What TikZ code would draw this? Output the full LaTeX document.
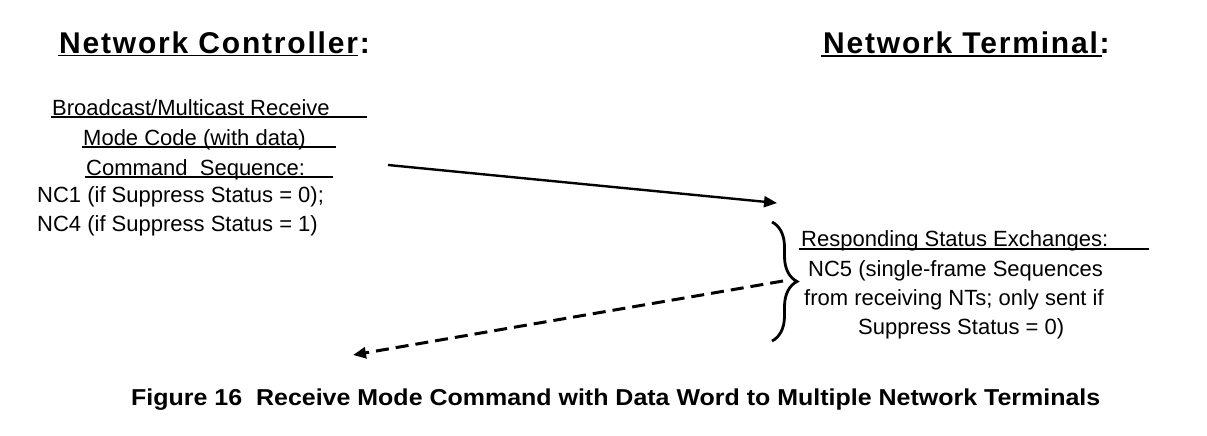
\documentclass[tikz,border=0pt]{standalone}
\usepackage{fontspec}
\setmainfont{Liberation Sans}
\usepackage{graphicx}
\usetikzlibrary{arrows.meta,decorations.pathreplacing}

\begin{document}
\begin{tikzpicture}[x=1pt,y=-1pt,>={Triangle[length=13pt,width=11pt]},
  head/.style={anchor=base west,inner sep=0pt,font=\fontsize{30}{36}\selectfont\bfseries\addfontfeature{LetterSpace=6}},
  txt/.style={anchor=base west,inner sep=0pt,font=\fontsize{22}{28}\selectfont},
  uline/.style={line width=1.5pt},
  msg/.style={->,line width=2.4pt}]
\useasboundingbox (0,0) rectangle (1207,436);
% headings
\node[head] (ctrl) at (59,53)  {Network Controller:};
\node[head] (term) at (823,53) {Network Terminal:};
\draw[uline] (58,55.5) -- (358,55.5);
\draw[uline] (821,56) -- (1102,56);
% controller side: command sequence
\node[txt] (cmdA) at (52,115)  {Broadcast/Multicast Receive};
\node[txt] (cmdB) at (83,145)  {Mode Code (with data)};
\node[txt] (cmdC) at (86,175)  {Command\ \ Sequence:};
\node[txt] (ncA)  at (37,202)  {NC1 (if Suppress Status = 0);};
\node[txt] (ncB)  at (37,231)  {NC4 (if Suppress Status = 1)};
\draw[uline] (51,117) -- (367,117);
\draw[uline] (82,147) -- (336,147);
\draw[uline] (85,177) -- (333,177);
% terminal side: status responses
\node[txt] (rspA) at (801,246) {Responding Status Exchanges:};
\node[txt] (rspB) at (808,276) {NC5 (single-frame Sequences};
\node[txt] (rspC) at (804,305) {from receiving NTs; only sent if};
\node[txt] (rspD) at (858,334) {Suppress Status = 0)};
\draw[uline] (799,249) -- (1149,249);
\draw[line width=2.8pt,decorate,decoration={brace,amplitude=25pt}] (772,222) -- (772,341);
% messages
\coordinate (cmdOut) at (388,165);
\coordinate (cmdIn)  at (777,203);
\coordinate (rspOut) at (783,281);
\coordinate (rspIn)  at (353,355);
\draw[msg] (cmdOut) -- (cmdIn);
\draw[msg,line width=3pt,dash pattern=on 13pt off 7pt] (rspOut) -- (rspIn);
% caption
\node[anchor=base west,inner sep=0pt,font=\fontsize{23}{27}\selectfont\bfseries] (cap) at (131,405)
  {\resizebox{969pt}{\height}{Figure 16\ \ Receive Mode Command with Data Word to Multiple Network Terminals}};
\end{tikzpicture}
\end{document}
